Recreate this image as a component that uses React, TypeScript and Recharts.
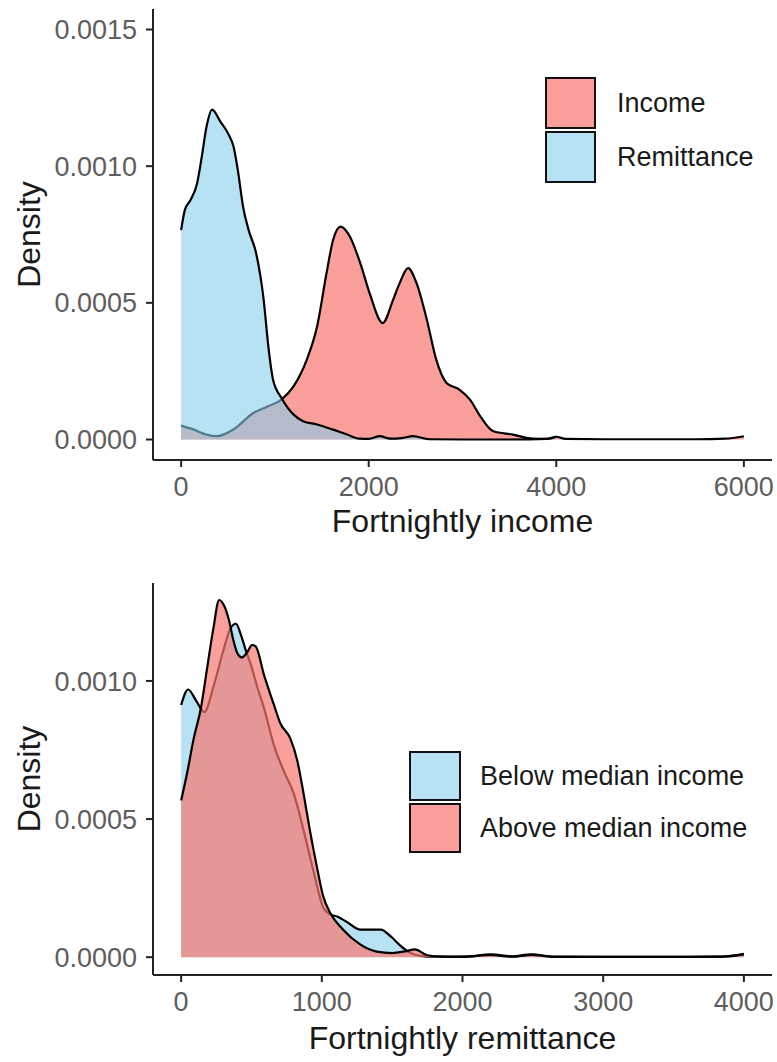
import React from 'react';
import { ComposedChart, Area, XAxis, YAxis, Legend, Label } from 'recharts';

// ---------- Top panel: fortnightly income vs remittance ----------
const INCOME_X = [0, 130, 270, 380, 560, 770, 910, 1070, 1200, 1340, 1450, 1550, 1620, 1700, 1800, 1910, 2010, 2150, 2260, 2330, 2420, 2510, 2620, 2720, 2830, 2970, 3080, 3190, 3330, 3540, 3750, 3900, 4000, 4100, 4500, 5000, 5500, 5800, 6000];
const INCOME_Y = [0.000051, 0.000037, 0.000018, 0.000012, 0.000037, 0.000097, 0.000119, 0.000146, 0.000195, 0.000292, 0.000414, 0.000608, 0.00073, 0.000779, 0.000742, 0.000645, 0.000535, 0.000426, 0.000511, 0.000572, 0.000627, 0.000572, 0.000438, 0.000292, 0.000207, 0.000182, 0.000146, 0.000085, 0.00003, 0.000018, 0.000003, 0.000002, 0.00001, 0.000002, 0.000001, 0.000001, 0.000001, 0.000003, 0.000012];

const REMIT_X = [0, 40, 100, 170, 220, 270, 330, 420, 500, 560, 610, 660, 720, 800, 880, 930, 980, 1070, 1200, 1300, 1450, 1620, 1770, 1900, 2000, 2120, 2230, 2350, 2470, 2650, 3000, 3500, 3900, 4000];
const REMIT_Y = [0.000766, 0.00084, 0.000876, 0.000937, 0.001034, 0.001143, 0.001207, 0.001162, 0.00112, 0.00107, 0.000973, 0.000852, 0.000766, 0.000681, 0.000511, 0.00034, 0.000219, 0.000152, 0.000091, 0.000067, 0.000055, 0.000036, 0.000018, 0.000003, 0.000002, 0.000012, 0.000003, 0.000005, 0.000012, 0.000001, 0, 0, 0.000002, 0.00001];

const TOP_X_TICKS = [0, 2000, 4000, 6000];
const TOP_Y_TICKS = [0, 0.0005, 0.001, 0.0015];
const TOP_NAMES = ['Income', 'Remittance'];

// ---------- Bottom panel: remittance by income group ----------
const BELOW_X = [0, 50, 105, 165, 230, 300, 350, 390, 425, 460, 495, 540, 590, 660, 730, 800, 870, 940, 1010, 1060, 1110, 1180, 1270, 1370, 1420, 1490, 1560, 1630, 1700, 1800, 1900, 2050, 2200, 2350, 2490, 2650, 3000, 3500, 3850, 4000];
const BELOW_Y = [0.000913, 0.000969, 0.00093, 0.000887, 0.00098, 0.00111, 0.00119, 0.001207, 0.001167, 0.00111, 0.00106, 0.00098, 0.0009, 0.000767, 0.000673, 0.000593, 0.00046, 0.000313, 0.00018, 0.000155, 0.000147, 0.000127, 0.0001, 0.0001, 0.0001, 0.000075, 0.000041, 0.000015, 0.000005, 0.000002, 0.000002, 0.000003, 0.00001, 0.000003, 0.00001, 0.000002, 0.000001, 0.000001, 0.000002, 0.000012];

const ABOVE_X = [0, 45, 90, 140, 185, 230, 270, 305, 340, 370, 400, 430, 465, 505, 530, 590, 660, 705, 775, 825, 870, 915, 965, 1010, 1060, 1150, 1270, 1390, 1500, 1600, 1660, 1750, 1850, 2000, 2200, 2350, 2490, 2650, 3000, 3500, 3850, 4000];
const ABOVE_Y = [0.000567, 0.000673, 0.000793, 0.0009, 0.001047, 0.001193, 0.001293, 0.001273, 0.00122, 0.00115, 0.0011, 0.001085, 0.0011, 0.00113, 0.001125, 0.00102, 0.000913, 0.000847, 0.000793, 0.000713, 0.000593, 0.00046, 0.000327, 0.00022, 0.00016, 0.0001, 0.000047, 0.00002, 0.000015, 0.000022, 0.000028, 0.000007, 0.000002, 0.000001, 0.000008, 0.000002, 0.000008, 0.000001, 0.000001, 0.000001, 0.000002, 0.00001];

const BOTTOM_X_TICKS = [0, 1000, 2000, 3000, 4000];
const BOTTOM_Y_TICKS = [0, 0.0005, 0.001];
const BOTTOM_NAMES = ['Below median income', 'Above median income'];

const RED = '#F8766D';
const BLUE = '#87CEEB';
const RED_ALPHA = 0.7;
const BLUE_ALPHA = 0.6;
const FONT = '"Liberation Sans", Arial, Helvetica, sans-serif';
const TICK_COLOR = '#5e5e5e';
const TITLE_COLOR = '#1a1a1a';
const AXIS_COLOR = '#222222';
const LINE_W = 2.2;

function merge(keys: string[], xs: number[][], ys: number[][]) {
  const map = new Map<number, any>();
  keys.forEach((k, i) => {
    xs[i].forEach((x, j) => {
      const row = map.get(x) || { x };
      row[k] = ys[i][j];
      map.set(x, row);
    });
  });
  return Array.from(map.values()).sort((a, b) => a.x - b.x);
}

const topData = merge(['income', 'remit'], [INCOME_X, REMIT_X], [INCOME_Y, REMIT_Y]);
const bottomData = merge(['below', 'above'], [BELOW_X, ABOVE_X], [BELOW_Y, ABOVE_Y]);

function rgba(hex: string, a: number) {
  const r = parseInt(hex.slice(1, 3), 16);
  const g = parseInt(hex.slice(3, 5), 16);
  const b = parseInt(hex.slice(5, 7), 16);
  return `rgba(${r},${g},${b},${a})`;
}

const makeYTitle = (text: string) => (props: any) => {
  const vb = props.viewBox || { x: 0, y: 0, width: 0, height: 0 };
  const cx = vb.x + 40;
  const cy = vb.y + vb.height / 2;
  return (
    <text
      x={cx}
      y={cy}
      transform={`rotate(-90, ${cx}, ${cy})`}
      textAnchor="middle"
      fontSize={32}
      fill={TITLE_COLOR}
      fontFamily={FONT}
    >
      {text}
    </text>
  );
};

const makeLegend = (names: string[], colors: string[], boxW: number, boxH: number, gap: number, textGap: number) => () => (
  <div style={{ fontFamily: FONT }}>
    {names.map((n, i) => (
      <div key={n} style={{ display: 'flex', alignItems: 'center', marginTop: i === 0 ? 0 : gap }}>
        <div
          style={{
            width: boxW,
            height: boxH,
            boxSizing: 'border-box',
            border: '2px solid #111',
            background: colors[i],
          }}
        />
        <span style={{ fontSize: 27, color: TITLE_COLOR, marginLeft: textGap, whiteSpace: 'nowrap' }}>{n}</span>
      </div>
    ))}
  </div>
);

const fmt = (v: number) => v.toFixed(4);

const tickStyle = { fill: TICK_COLOR, fontSize: 27, fontFamily: FONT };

export default function App() {
  return (
    <div style={{ position: 'absolute', left: 0, top: 0, width: 777, height: 1062, background: '#fff', fontFamily: FONT }}>
      <ComposedChart width={777} height={545} data={topData} margin={{ top: 9, right: 5, bottom: 0, left: 0 }}>
        <XAxis
          dataKey="x"
          type="number"
          domain={[-300, 6300]}
          ticks={TOP_X_TICKS}
          allowDataOverflow
          height={85}
          tickSize={7}
          tickMargin={10}
          tick={tickStyle}
          axisLine={{ stroke: AXIS_COLOR, strokeWidth: 2 }}
          tickLine={{ stroke: AXIS_COLOR, strokeWidth: 2 }}
        >
          <Label value="Fortnightly income" position="insideBottom" offset={13} fontSize={32} fill={TITLE_COLOR} />
        </XAxis>
        <YAxis
          type="number"
          domain={[-0.000075, 0.001575]}
          ticks={TOP_Y_TICKS}
          allowDataOverflow
          width={153}
          tickSize={7}
          tickMargin={9}
          tickFormatter={fmt}
          tick={tickStyle}
          axisLine={{ stroke: AXIS_COLOR, strokeWidth: 2 }}
          tickLine={{ stroke: AXIS_COLOR, strokeWidth: 2 }}
        >
          <Label content={makeYTitle('Density')} />
        </YAxis>
        <Area
          type="monotone"
          dataKey="income"
          name={TOP_NAMES[0]}
          connectNulls
          baseValue={0}
          fill={RED}
          fillOpacity={RED_ALPHA}
          stroke="#000"
          strokeWidth={LINE_W}
          dot={false}
          activeDot={false}
          isAnimationActive={false}
        />
        <Area
          type="monotone"
          dataKey="remit"
          name={TOP_NAMES[1]}
          connectNulls
          baseValue={0}
          fill={BLUE}
          fillOpacity={BLUE_ALPHA}
          stroke="#000"
          strokeWidth={LINE_W}
          dot={false}
          activeDot={false}
          isAnimationActive={false}
        />
        <Legend
          layout="horizontal"
          verticalAlign="middle"
          align="center"
          wrapperStyle={{ left: 545, top: 77, width: 240 }}
          content={makeLegend(TOP_NAMES, [rgba(RED, RED_ALPHA), rgba(BLUE, BLUE_ALPHA)], 51, 52, 2, 21)}
        />
      </ComposedChart>
      <ComposedChart width={777} height={517} data={bottomData} margin={{ top: 38, right: 5, bottom: 0, left: 0 }}>
        <XAxis
          dataKey="x"
          type="number"
          domain={[-200, 4200]}
          ticks={BOTTOM_X_TICKS}
          allowDataOverflow
          height={87}
          tickSize={7}
          tickMargin={10}
          tick={tickStyle}
          axisLine={{ stroke: AXIS_COLOR, strokeWidth: 2 }}
          tickLine={{ stroke: AXIS_COLOR, strokeWidth: 2 }}
        >
          <Label value="Fortnightly remittance" position="insideBottom" offset={13} fontSize={32} fill={TITLE_COLOR} />
        </XAxis>
        <YAxis
          type="number"
          domain={[-0.0000645, 0.0013545]}
          ticks={BOTTOM_Y_TICKS}
          allowDataOverflow
          width={153}
          tickSize={7}
          tickMargin={9}
          tickFormatter={fmt}
          tick={tickStyle}
          axisLine={{ stroke: AXIS_COLOR, strokeWidth: 2 }}
          tickLine={{ stroke: AXIS_COLOR, strokeWidth: 2 }}
        >
          <Label content={makeYTitle('Density')} />
        </YAxis>
        <Area
          type="monotone"
          dataKey="below"
          name={BOTTOM_NAMES[0]}
          connectNulls
          baseValue={0}
          fill={BLUE}
          fillOpacity={BLUE_ALPHA}
          stroke="#000"
          strokeWidth={LINE_W}
          dot={false}
          activeDot={false}
          isAnimationActive={false}
        />
        <Area
          type="monotone"
          dataKey="above"
          name={BOTTOM_NAMES[1]}
          connectNulls
          baseValue={0}
          fill={RED}
          fillOpacity={RED_ALPHA}
          stroke="#000"
          strokeWidth={LINE_W}
          dot={false}
          activeDot={false}
          isAnimationActive={false}
        />
        <Legend
          layout="horizontal"
          verticalAlign="middle"
          align="center"
          wrapperStyle={{ left: 409, top: 206, width: 360 }}
          content={makeLegend(BOTTOM_NAMES, [rgba(BLUE, BLUE_ALPHA), rgba(RED, RED_ALPHA)], 52, 50, 2, 19)}
        />
      </ComposedChart>
    </div>
  );
}
